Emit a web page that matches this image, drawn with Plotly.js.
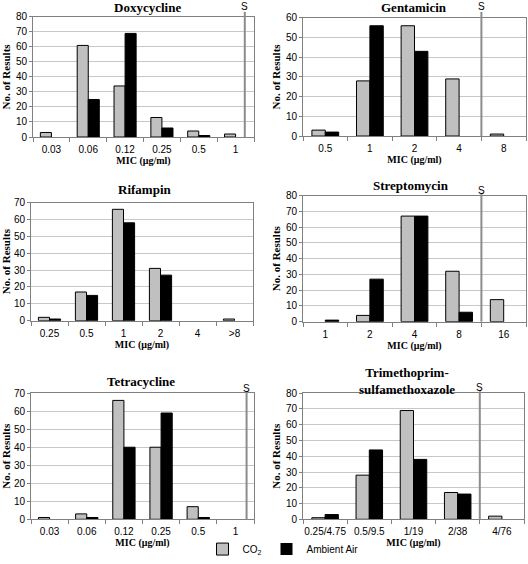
<!DOCTYPE html>
<html>
<head>
<meta charset="utf-8">
<script src="https://cdn.plot.ly/plotly-3.0.1.min.js"></script>
<style>html,body{margin:0;padding:0;background:#fff;}#chart{width:528px;height:564px;}</style>
</head>
<body>
<div id="chart"></div>
<script>
// ---- Data ----
const seriesNames = ['CO<sub>2</sub>', 'Ambient Air'];
const panelTitles = ['Doxycycline', 'Gentamicin', 'Rifampin', 'Streptomycin', 'Tetracycline', 'Trimethoprim-<br>sulfamethoxazole'];

const doxyCats = ['0.03', '0.06', '0.12', '0.25', '0.5', '1'];
const doxyCO2 = [3, 61, 34, 13, 4, 2];
const doxyAir = [0, 25, 69, 6, 1, 0];

const gentCats = ['0.5', '1', '2', '4', '8'];
const gentCO2 = [3, 28, 56, 29, 1];
const gentAir = [2, 56, 43, 0, 0];

const rifCats = ['0.25', '0.5', '1', '2', '4', '>8'];
const rifCO2 = [2, 17, 66, 31, 0, 1];
const rifAir = [1, 15, 58, 27, 0, 0];

const strepCats = ['1', '2', '4', '8', '16'];
const strepCO2 = [0, 4, 67, 32, 14];
const strepAir = [1, 27, 67, 6, 0];

const tetCats = ['0.03', '0.06', '0.12', '0.25', '0.5', '1'];
const tetCO2 = [1, 3, 66, 40, 7, 0];
const tetAir = [0, 1, 40, 59, 1, 0];

const tmpCats = ['0.25/4.75', '0.5/9.5', '1/19', '2/38', '4/76'];
const tmpCO2 = [1, 28, 69, 17, 2];
const tmpAir = [3, 44, 38, 16, 0];

const yMax = [80, 60, 70, 80, 70, 80];
// susceptibility breakpoint position (category index), null = none
const sBreak = [5.25, 3.5, null, 3.5, 5.3, 3.5];

// ---- Layout geometry (pixels) ----
const W = 528, H = 564;
const boxes = [
  {l: 33, r: 254, t: 17, b: 138},
  {l: 303, r: 526, t: 18, b: 137},
  {l: 31, r: 253, t: 204, b: 323},
  {l: 303, r: 526, t: 197, b: 324},
  {l: 31, r: 254, t: 396, b: 523},
  {l: 303, r: 524, t: 396, b: 523}
];
const titlePos = [[147, 8], [414, 8], [145, 191], [411, 187], [141, 384], [407, 366]];
const sLabelY = [7, 7, null, 192, 391, 390];
const sLineTop = [12, 12, null, 195, 394, 394];

const px = x => x / W;
const py = y => 1 - y / H;

const cats = [doxyCats, gentCats, rifCats, strepCats, tetCats, tmpCats];
const co2 = [doxyCO2, gentCO2, rifCO2, strepCO2, tetCO2, tmpCO2];
const air = [doxyAir, gentAir, rifAir, strepAir, tetAir, tmpAir];

const GRAY = '#c0c0c0';
const edge = vals => vals.map(v => (v > 0 ? 1 : 0));
const traces = [];
const layout = {
  width: W, height: H,
  margin: {l: 0, r: 0, t: 0, b: 0},
  paper_bgcolor: '#fff', plot_bgcolor: '#fff',
  barmode: 'group', bargap: 0.4, bargroupgap: 0,
  showlegend: true,
  legend: {
    orientation: 'h', x: px(283), y: py(553), xanchor: 'center', yanchor: 'middle',
    font: {family: 'Liberation Sans, Arial, sans-serif', size: 10, color: '#000'},
    itemwidth: 30, tracegroupgap: 0, bgcolor: 'rgba(0,0,0,0)'
  },
  font: {family: 'Liberation Sans, Arial, sans-serif', size: 10, color: '#000'},
  shapes: [], annotations: []
};

for (let i = 0; i < 6; i++) {
  const n = i + 1;
  const xa = n === 1 ? 'x' : 'x' + n;
  const ya = n === 1 ? 'y' : 'y' + n;
  const b = boxes[i];
  traces.push({
    type: 'bar', x: cats[i], y: co2[i], name: seriesNames[0], xaxis: xa, yaxis: ya,
    marker: {color: GRAY, line: {color: '#000', width: edge(co2[i])}},
    legendgroup: 'co2', showlegend: i === 0, hoverinfo: 'x+y+name'
  });
  traces.push({
    type: 'bar', x: cats[i], y: air[i], name: seriesNames[1], xaxis: xa, yaxis: ya,
    marker: {color: '#000', line: {color: '#000', width: edge(air[i])}},
    legendgroup: 'air', showlegend: i === 0, hoverinfo: 'x+y+name'
  });
  layout['xaxis' + (n === 1 ? '' : n)] = {
    type: 'category', anchor: ya,
    domain: [px(b.l), px(b.r)],
    range: [-0.5, cats[i].length - 0.5],
    tickson: 'boundaries', ticks: 'outside', ticklen: 4, tickcolor: '#808080',
    tickangle: 0, ticklabelstandoff: 3,
    showline: true, linecolor: '#808080', linewidth: 1, mirror: true,
    showgrid: false, zeroline: false, fixedrange: true,
    tickfont: {family: 'Liberation Sans, Arial, sans-serif', size: 10, color: '#000'},
    title: {text: 'MIC (μg/ml)', standoff: 0,
      font: {family: 'Liberation Serif, Times New Roman, serif', size: 10, color: '#000', weight: 'bold'}}
  };
  layout['yaxis' + (n === 1 ? '' : n)] = {
    anchor: xa,
    domain: [py(b.b), py(b.t)],
    range: [0, yMax[i]], dtick: 10, tick0: 0,
    ticks: 'outside', ticklen: 3, tickcolor: '#808080',
    showline: true, linecolor: '#808080', linewidth: 1, mirror: true,
    showgrid: true, gridcolor: '#c8c8c8', gridwidth: 1, zeroline: false, fixedrange: true,
    tickfont: {family: 'Liberation Sans, Arial, sans-serif', size: 10, color: '#000'},
    title: {text: 'No. of Results', standoff: 3,
      font: {family: 'Liberation Serif, Times New Roman, serif', size: 11, color: '#000', weight: 'bold'}}
  };
  layout.annotations.push({
    xref: 'paper', yref: 'paper', x: px(titlePos[i][0]), y: py(titlePos[i][1]),
    xanchor: 'center', yanchor: i === 5 ? 'top' : 'middle', showarrow: false,
    text: panelTitles[i],
    font: {family: 'Liberation Serif, Times New Roman, serif', size: 13, color: '#000', weight: 'bold'}
  });
  if (sBreak[i] !== null) {
    layout.shapes.push({
      type: 'line', xref: xa, yref: 'paper',
      x0: sBreak[i], x1: sBreak[i], y0: py(b.b), y1: py(sLineTop[i]),
      line: {color: '#8c8c8c', width: 2}
    });
    layout.annotations.push({
      xref: xa, yref: 'paper', x: sBreak[i], y: py(sLabelY[i]),
      xanchor: 'center', yanchor: 'middle', showarrow: false, text: 'S',
      font: {family: 'Liberation Sans, Arial, sans-serif', size: 10, color: '#000'}
    });
  }
}

Plotly.newPlot('chart', traces, layout, {displayModeBar: false, staticPlot: true});
</script>
</body>
</html>
